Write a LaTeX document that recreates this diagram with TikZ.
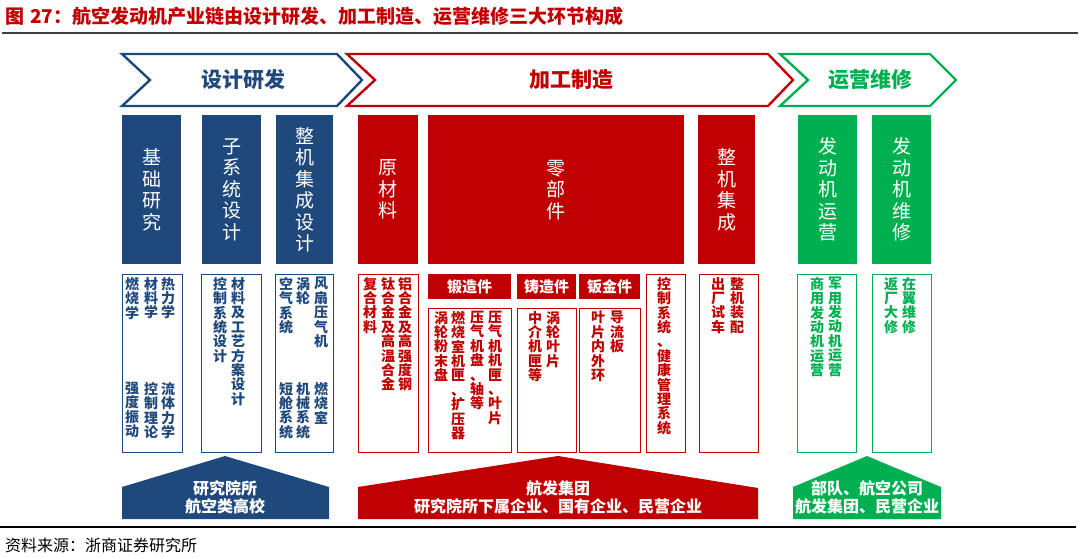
\documentclass[tikz,border=0pt]{standalone}
\usepackage{fontspec}
\usepackage{tikz}
\usetikzlibrary{positioning}
\newfontfamily\cjk{Noto Sans CJK SC}
\definecolor{designblue}{HTML}{1F497D}
\definecolor{makered}{HTML}{C00000}
\definecolor{servgreen}{HTML}{00B050}
\definecolor{rulegray}{HTML}{3F3F3F}
\makeatletter
% one character per line, top to bottom
\def\vcol#1{\vcol@#1\@nil}
\def\vcol@#1#2\@nil{#1\ifx\@nil#2\@nil\else\\\vcol@#2\@nil\fi}
\makeatother
\tikzset{
  stagebox/.style={anchor=north west,inner sep=0pt,minimum height=149,text=white,align=center,font=\cjk\fontsize{19}{21.5}\selectfont},
  detailbox/.style={anchor=north west,inner sep=0pt,fill=white,line width=1.4pt},
  detailcol/.style={anchor=north,inner sep=0pt,align=center,font=\cjk\bfseries\fontsize{14}{14.4}\selectfont},
  subhead/.style={anchor=north west,inner sep=0pt,minimum height=25,text=white,font=\cjk\bfseries\fontsize{15}{15}\selectfont},
  chevron/.style={line width=2.4pt,fill=white,line join=miter},
  chevlabel/.style={inner sep=0pt,font=\cjk\bfseries\fontsize{21}{21}\selectfont},
  housetext/.style={inner sep=0pt,text=white,align=center,font=\cjk\bfseries\fontsize{16}{18}\selectfont}
}
\begin{document}
\begin{tikzpicture}[x=1pt,y=-1pt]
  \useasboundingbox (0,0) rectangle (1080,559);

  \node[anchor=west,inner sep=0pt,text=makered,font=\cjk\bfseries\fontsize{19}{19}\selectfont] (title) at (5,16) {图\hspace{6pt}27：航空发动机产业链由设计研发、加工制造、运营维修三大环节构成};
  \draw[rulegray,line width=2pt] (2,33) -- (1078,33);

  % Stage chevrons
  \draw[chevron,draw=designblue] (122,54) -- (337,54) -- (362,80) -- (337,106) -- (122,106) -- (150,80) -- cycle;
  \draw[chevron,draw=makered] (347,54) -- (768,54) -- (793,80) -- (768,106) -- (347,106) -- (375,80) -- cycle;
  \draw[chevron,draw=servgreen] (780,54) -- (930,54) -- (956,80) -- (930,106) -- (780,106) -- (808,80) -- cycle;
  \node[chevlabel,text=designblue] (design) at (243,80) {设计研发};
  \node[chevlabel,text=makered] (make) at (571,80) {加工制造};
  \node[chevlabel,text=servgreen] (service) at (870,80) {运营维修};

  % Design stage
  \node[stagebox,fill=designblue,minimum width=59] (basic) at (122,115) {\vcol{基础研究}};
  \node[stagebox,fill=designblue,minimum width=59] (subsys) at (202,115) {\vcol{子系统设计}};
  \node[stagebox,fill=designblue,minimum width=57] (integ) at (276,115) {\vcol{整机集成设计}};

  \node[detailbox,draw=designblue,minimum width=60,minimum height=178] (basicd) at (122,274) {};
  \node[detailbox,draw=designblue,minimum width=60,minimum height=178] (subsysd) at (201,274) {};
  \node[detailbox,draw=designblue,minimum width=58,minimum height=178] (integd) at (275,274) {};

  \node[detailcol,text=designblue] (b1) at (168,277) {\vcol{热力学}};
  \node[detailcol,text=designblue] (b2) at (151,277) {\vcol{材料学}};
  \node[detailcol,text=designblue] (b3) at (132,277) {\vcol{燃烧学}};
  \node[detailcol,text=designblue] (b4) at (168,382) {\vcol{流体力学}};
  \node[detailcol,text=designblue] (b5) at (151,382) {\vcol{控制理论}};
  \node[detailcol,text=designblue] (b6) at (132,382) {\vcol{强度振动}};
  \node[detailcol,text=designblue] (s1) at (238,277) {\vcol{材料及工艺方案设计}};
  \node[detailcol,text=designblue] (s2) at (220,277) {\vcol{控制系统设计}};
  \node[detailcol,text=designblue] (i1) at (321,277) {\vcol{风扇压气机}};
  \node[detailcol,text=designblue] (i2) at (303,277) {\vcol{涡轮}};
  \node[detailcol,text=designblue] (i3) at (286,277) {\vcol{空气系统}};
  \node[detailcol,text=designblue] (i4) at (321,382) {\vcol{燃烧室}};
  \node[detailcol,text=designblue] (i5) at (303,382) {\vcol{机械系统}};
  \node[detailcol,text=designblue] (i6) at (286,382) {\vcol{短舱系统}};

  % Manufacturing stage
  \node[stagebox,fill=makered,minimum width=60] (raw) at (358,115) {\vcol{原材料}};
  \node[stagebox,fill=makered,minimum width=256] (parts) at (428,115) {\vcol{零部件}};
  \node[stagebox,fill=makered,minimum width=57] (assy) at (698,115) {\vcol{整机集成}};

  \node[detailbox,draw=makered,minimum width=60,minimum height=178] (rawd) at (358,274) {};
  \node[subhead,fill=makered,minimum width=83] (forge) at (428,274) {锻造件};
  \node[subhead,fill=makered,minimum width=59] (cast) at (517,274) {铸造件};
  \node[subhead,fill=makered,minimum width=61] (sheet) at (579,274) {钣金件};
  \node[detailbox,draw=makered,minimum width=83,minimum height=144] (forged) at (428,308) {};
  \node[detailbox,draw=makered,minimum width=59,minimum height=144] (castd) at (517,308) {};
  \node[detailbox,draw=makered,minimum width=61,minimum height=144] (sheetd) at (579,308) {};
  \node[detailbox,draw=makered,minimum width=39,minimum height=178] (ctrld) at (646,274) {};
  \node[detailbox,draw=makered,minimum width=59,minimum height=178] (assyd) at (699,274) {};

  \node[detailcol,text=makered] (r1) at (405,277) {\vcol{铝合金及高强度钢}};
  \node[detailcol,text=makered] (r2) at (388,277) {\vcol{钛合金及高温合金}};
  \node[detailcol,text=makered] (r3) at (370,277) {\vcol{复合材料}};
  \node[detailcol,text=makered] (f1) at (495,311) {\vcol{压气机机匣、叶片}};
  \node[detailcol,text=makered] (f2) at (477,311) {\vcol{压气机盘、轴等}};
  \node[detailcol,text=makered] (f3) at (458,311) {\vcol{燃烧室机匣、扩压器}};
  \node[detailcol,text=makered] (f4) at (441,311) {\vcol{涡轮粉末盘}};
  \node[detailcol,text=makered] (c1) at (553,311) {\vcol{涡轮叶片}};
  \node[detailcol,text=makered] (c2) at (535,311) {\vcol{中介机匣等}};
  \node[detailcol,text=makered] (h1) at (617,311) {\vcol{导流板}};
  \node[detailcol,text=makered] (h2) at (598,311) {\vcol{叶片内外环}};
  \node[detailcol,text=makered] (k1) at (664,277) {\vcol{控制系统、健康管理系统}};
  \node[detailcol,text=makered] (a1) at (737,277) {\vcol{整机装配}};
  \node[detailcol,text=makered] (a2) at (718,277) {\vcol{出厂试车}};

  % Service stage
  \node[stagebox,fill=servgreen,minimum width=59] (run) at (798,115) {\vcol{发动机运营}};
  \node[stagebox,fill=servgreen,minimum width=59] (fix) at (872,115) {\vcol{发动机维修}};

  \node[detailbox,draw=servgreen,minimum width=59,minimum height=178] (rund) at (797,274) {};
  \node[detailbox,draw=servgreen,minimum width=59,minimum height=178] (fixd) at (872,274) {};

  \node[detailcol,text=servgreen] (g1) at (835,277) {\vcol{军用发动机运营}};
  \node[detailcol,text=servgreen] (g2) at (817,277) {\vcol{商用发动机运营}};
  \node[detailcol,text=servgreen] (g3) at (909,277) {\vcol{在翼维修}};
  \node[detailcol,text=servgreen] (g4) at (891,277) {\vcol{返厂大修}};

  % Players
  \fill[designblue] (122,519) -- (122,487) -- (225,456) -- (329,487) -- (329,519) -- cycle;
  \fill[makered] (358,519) -- (358,487) -- (558,456) -- (758,488) -- (758,519) -- cycle;
  \fill[servgreen] (793,519) -- (793,487) -- (867,456) -- (941,487) -- (941,519) -- cycle;
  \node[housetext] (designorg) at (225,497) {研究院所\\航空类高校};
  \node[housetext] (makeorg) at (558,497) {航发集团\\研究院所下属企业、国有企业、民营企业};
  \node[housetext] (serviceorg) at (867,497) {部队、航空公司\\航发集团、民营企业};

  \draw[black,line width=1.3pt] (0,527) -- (1076,527);
  \node[anchor=west,inner sep=0pt,font=\cjk\fontsize{16}{16}\selectfont] (source) at (5,545) {资料来源：浙商证券研究所};
\end{tikzpicture}
\end{document}
